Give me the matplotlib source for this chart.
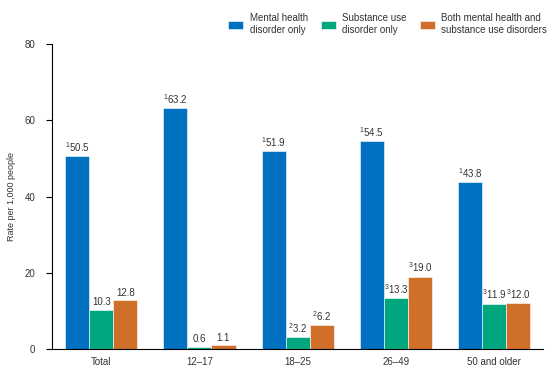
import numpy as np
import matplotlib.pyplot as plt

plt.rcParams['font.family'] = ['Liberation Sans', 'DejaVu Sans']
plt.rcParams['mathtext.fontset'] = 'custom'
plt.rcParams['mathtext.rm'] = 'Liberation Sans'

categories = ['Total', '12\u201317', '18\u201325', '26\u201349', '50 and older']
mental = [50.5, 63.2, 51.9, 54.5, 43.8]
substance = [10.3, 0.6, 3.2, 13.3, 11.9]
both = [12.8, 1.1, 6.2, 19.0, 12.0]
mental_notes = ['1', '1', '1', '1', '1']
substance_notes = ['', '', '2', '3', '3']
both_notes = ['', '', '2', '3', '3']
series_names = ['Mental health\ndisorder only', 'Substance use\ndisorder only',
                'Both mental health and\nsubstance use disorders']
colors = ['#0070C0', '#00A77E', '#CF6F29']

fig = plt.figure(figsize=(5.6, 3.79), dpi=100)
ax = fig.add_axes([0.093, 0.079, 0.877, 0.805])

x = np.arange(len(categories))
w = 0.245
series = [mental, substance, both]
notes = [mental_notes, substance_notes, both_notes]
for i, (vals, nts) in enumerate(zip(series, notes)):
    pos = x + (i - 1) * w
    ax.bar(pos, vals, width=w, color=colors[i], edgecolor='white',
           linewidth=0.4, label=series_names[i], zorder=2)
    for px, v, n in zip(pos, vals, nts):
        lab = f'{v:.1f}'
        if n:
            lab = '$^{' + n + '}$' + lab
        ax.text(px, v + 0.6, lab, ha='center', va='bottom', fontsize=7,
                color='#333333')

ax.set_xlim(-0.5, 4.5)
ax.set_ylim(0, 80)
ax.set_yticks([0, 20, 40, 60, 80])
ax.set_xticks(x)
ax.set_xticklabels(categories)
ax.tick_params(axis='x', length=0, labelsize=7, pad=6, labelcolor='#333333')
ax.tick_params(axis='y', length=4, width=0.8, labelsize=7, pad=8,
               labelcolor='#333333')
ax.set_ylabel('Rate per 1,000 people', fontsize=6.5, labelpad=6,
              color='#333333')
for s in ['top', 'right']:
    ax.spines[s].set_visible(False)
ax.spines['left'].set_linewidth(0.8)
ax.spines['bottom'].set_linewidth(0.8)

leg = ax.legend(loc='lower left', bbox_to_anchor=(0.358, 1.03), ncol=3,
                frameon=False, fontsize=7, handlelength=1.55, handleheight=0.9,
                handletextpad=0.7, columnspacing=1.3, borderaxespad=0,
                borderpad=0)
for t in leg.get_texts():
    t.set_color('#333333')

fig.savefig('out.png', dpi=100)
